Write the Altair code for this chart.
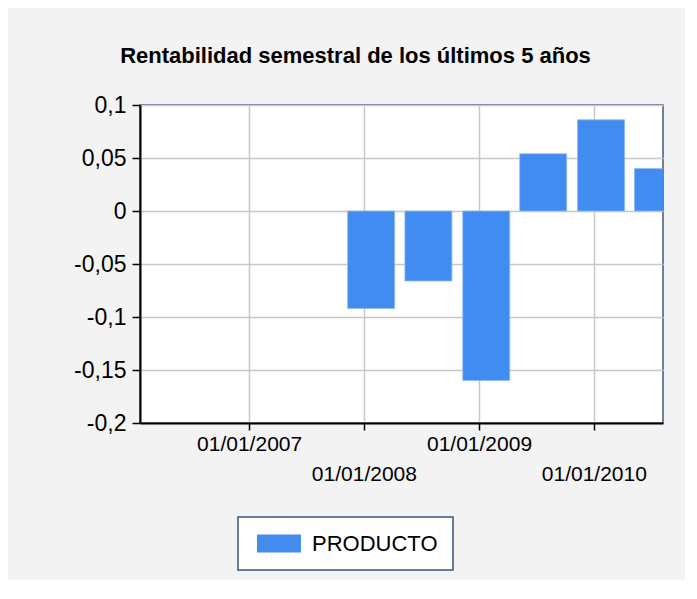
import altair as alt
import pandas as pd

# Data
fechas = ["2008-01-24", "2008-07-24", "2009-01-24", "2009-07-24", "2010-01-24", "2010-07-24"]
rentabilidad = [-0.092, -0.066, -0.160, 0.054, 0.086, 0.040]
serie = ["PRODUCTO"] * len(fechas)
y_ticks = [-0.2, -0.15, -0.1, -0.05, 0, 0.05, 0.1]
x_tick_years = [2007, 2008, 2009, 2010]
titulo = "Rentabilidad semestral de los últimos 5 años"

df = pd.DataFrame({"fecha": fechas, "valor": rentabilidad, "serie": serie})

FONT = "Liberation Sans"

x_vals = [alt.DateTime(year=y, month=1, date=1, utc=True) for y in x_tick_years]

bars = alt.Chart(df).mark_bar(size=47, clip=True, stroke="#8FBAF5", strokeWidth=0.8).encode(
    x=alt.X(
        "fecha:T",
        scale=alt.Scale(
            type="utc",
            domain=[
                alt.DateTime(year=2006, month=2, date=4, utc=True),
                alt.DateTime(year=2010, month=7, date=24, utc=True),
            ],
            nice=False,
        ),
        axis=alt.Axis(
            title=None,
            values=x_vals,
            labelExpr="utcFormat(datum.value, '%d/%m/%Y')",
            labelPadding={"condition": {"test": "utcyear(datum.value) % 2 == 0", "value": 33}, "value": 3},
            labelOverlap=False,
            labelFontSize=21,
            labelFont=FONT,
            labelColor="#000000",
            tickSize=7,
            tickColor="#000000",
            tickWidth=1.5,
            domainColor="#000000",
            domainWidth=2,
            gridColor="#C8C8C8",
            gridWidth=1.5,
        ),
    ),
    y=alt.Y(
        "valor:Q",
        scale=alt.Scale(domain=[-0.2, 0.1], nice=False, zero=False),
        axis=alt.Axis(
            title=None,
            values=y_ticks,
            labelExpr="(datum.value < 0 ? '-' : '') + replace(format(abs(datum.value), '.2~f'), '.', ',')",
            labelFontSize=23,
            labelFont=FONT,
            labelColor="#000000",
            labelPadding=6,
            tickSize=8,
            tickColor="#000000",
            tickWidth=1.5,
            domainColor="#000000",
            domainWidth=2,
            gridColor="#C8C8C8",
            gridWidth=1.5,
        ),
    ),
    color=alt.Color(
        "serie:N",
        scale=alt.Scale(range=["#418CF0"]),
        legend=alt.Legend(
            title=None,
            orient="none",
            legendX=98,
            legendY=412,
            padding=15.5,
            fillColor="#FFFFFF",
            strokeColor="#3B5578",
            labelFont=FONT,
            labelFontSize=22,
            labelColor="#000000",
            labelOffset=22,
            symbolOffset=14.5,
            symbolType="M-2,-0.82H2V0.82H-2Z",
            symbolSize=484,
            symbolStrokeWidth=0,
            symbolFillColor="#418CF0",
            symbolOpacity=1,
        ),
    ),
)

chart = bars.properties(
    width=523,
    height=318,
    title=alt.TitleParams(
        text=titulo,
        font=FONT,
        fontSize=22,
        fontWeight="bold",
        color="#000000",
        anchor="middle",
        frame="group",
        dx=-46,
        offset=26,
    ),
    background="#F3F3F3",
    padding={"left": 132, "top": 97, "right": 22, "bottom": 157},
    autosize=alt.AutoSizeParams(type="none"),
).configure_view(
    stroke="#44597A",
    strokeWidth=1.5,
    fill="#FFFFFF",
).configure_legend(
    strokeWidth=1.5,
)

chart.save("out.html", embed_options={"renderer": "svg", "actions": False})
